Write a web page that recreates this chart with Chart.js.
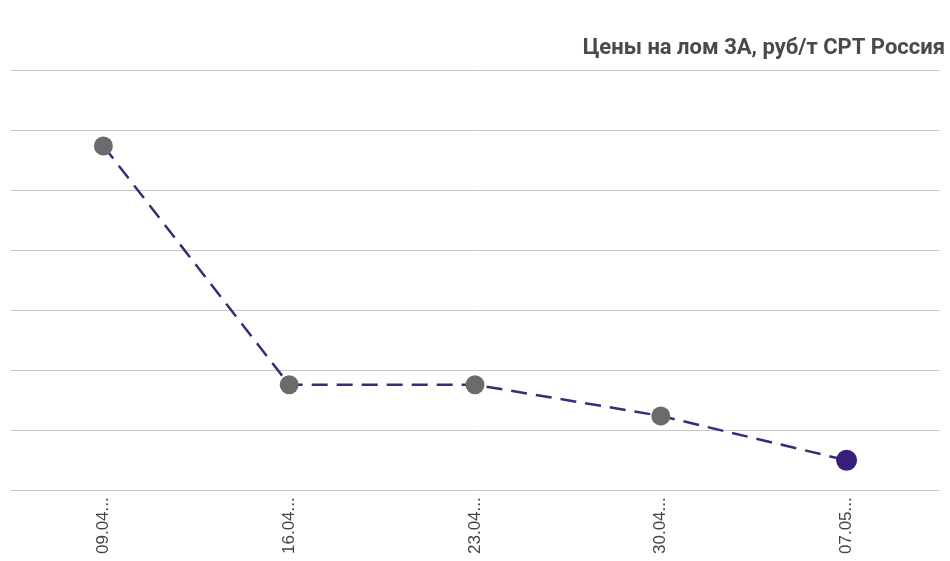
<!DOCTYPE html>
<html>
<head>
<meta charset="utf-8">
<script src="https://cdn.jsdelivr.net/npm/chart.js@4"></script>
<style>
  html, body { margin: 0; padding: 0; background: #fff; }
  #wrap { width: 950px; height: 561px; }
</style>
</head>
<body>
<div id="wrap"><canvas id="priceChart"></canvas></div>
<script>
// data (y axis has no labels, values in rub/t are estimates)
const dates = ['09.04...', '16.04...', '23.04...', '30.04...', '07.05...'];
const prices = [24870, 22880, 22880, 22620, 22250];
const yMin = 22000;
const yMax = 25500;
const yStep = 500;

const pointColors = ['#6b6b6b', '#6b6b6b', '#6b6b6b', '#6b6b6b', '#3a1f7a'];
const pointSizes = [9.5, 9.5, 9.5, 9.5, 10.5];

const ctx = document.getElementById('priceChart').getContext('2d');
const priceChart = new Chart(ctx, {
    type: 'line',
    data: {
        labels: dates,
        datasets: [{
            label: 'Цена',
            data: prices,
            borderColor: '#3b2a78',
            borderWidth: 2.5,
            borderDash: [16, 9],
            fill: false,
            tension: 0,
            pointBackgroundColor: pointColors,
            pointBorderWidth: 0,
            pointRadius: pointSizes,
            pointHoverRadius: pointSizes
        }]
    },
    options: {
        responsive: true,
        maintainAspectRatio: false,
        animation: false,
        layout: {
            padding: { left: 10, right: 5, bottom: 0 }
        },
        plugins: {
            legend: { display: false },
            tooltip: { enabled: false },
            title: {
                display: true,
                text: 'Цены на лом 3А, руб/т CPT Россия',
                align: 'end',
                color: '#4a4a4a',
                font: { family: 'Roboto', size: 22, weight: 'bold' },
                padding: { top: 35, bottom: 9 }
            }
        },
        scales: {
            x: {
                offset: true,
                grid: { display: false, drawTicks: false },
                border: { display: false },
                ticks: {
                    minRotation: 90,
                    maxRotation: 90,
                    padding: 7,
                    color: '#444444',
                    font: { family: 'Liberation Sans', size: 17 }
                }
            },
            y: {
                min: yMin,
                max: yMax,
                grid: { color: '#c8c8c8', lineWidth: 1, drawTicks: false },
                border: { display: false },
                ticks: { display: false, stepSize: yStep }
            }
        }
    }
});
</script>
</body>
</html>
